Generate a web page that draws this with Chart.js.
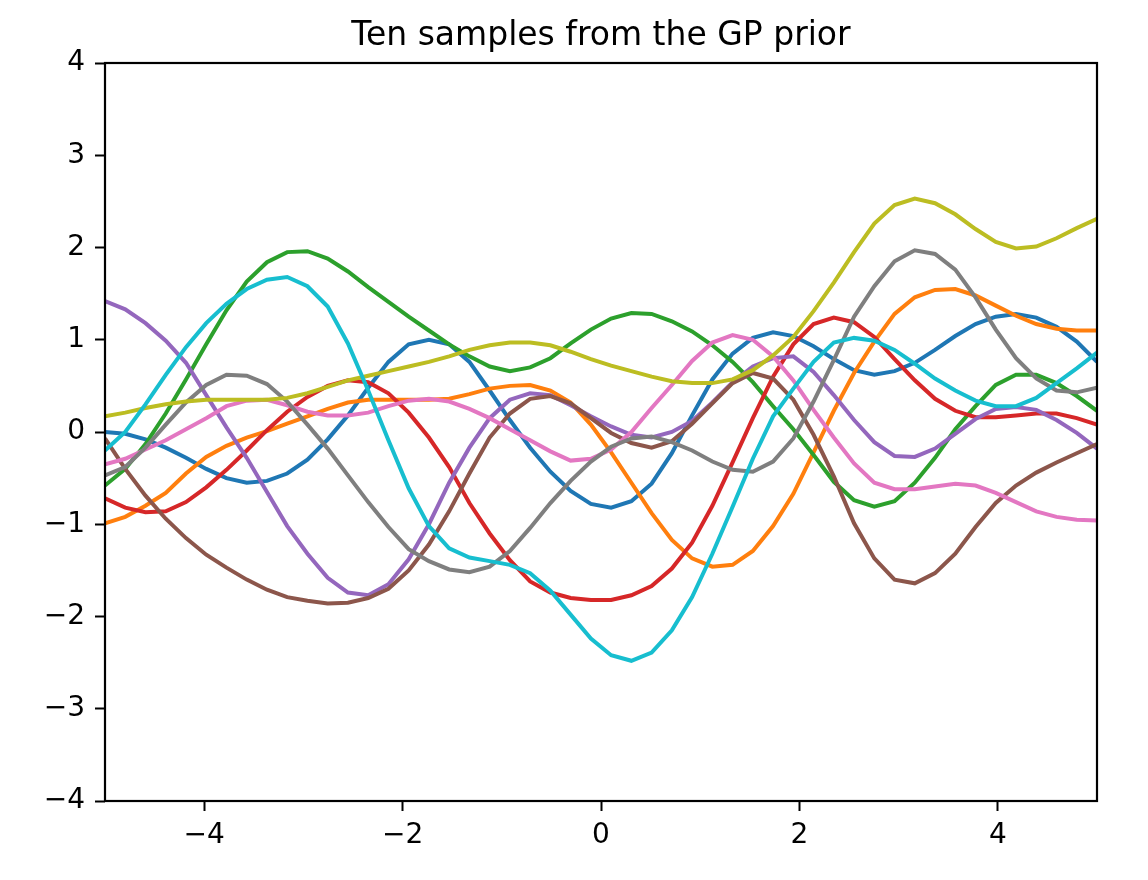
<!DOCTYPE html>
<html>
<head>
<meta charset="utf-8">
<script src="https://cdn.jsdelivr.net/npm/chart.js@4.4.1/dist/chart.umd.min.js"></script>
<style>
  body { margin: 0; background: #fff; }
  #wrap { width: 1148px; height: 880px; }
</style>
</head>
<body>
<div id="wrap"><canvas id="gp-chart" width="1148" height="880"></canvas></div>
<script>
// 50 evenly spaced points on [-5, 5], like np.linspace(-5, 5, 50)
const xValues = Array.from({ length: 50 }, (_, i) => -5 + i * 10 / 49)

const xTicks = [-4, -2, 0, 2, 4]
const yTicks = [-4, -3, -2, -1, 0, 1, 2, 3, 4]

const sample1 = [0.00, -0.02, -0.08, -0.17, -0.28, -0.40, -0.50, -0.55, -0.53, -0.45,
  -0.30, -0.08, 0.18, 0.48, 0.76, 0.95, 1.00, 0.95, 0.76, 0.45,
  0.13, -0.17, -0.43, -0.64, -0.78, -0.82, -0.75, -0.56, -0.23, 0.18,
  0.57, 0.85, 1.02, 1.08, 1.04, 0.93, 0.79, 0.67, 0.62, 0.66,
  0.75, 0.89, 1.04, 1.17, 1.25, 1.28, 1.24, 1.14, 0.98, 0.76]
const sample2 = [-0.99, -0.92, -0.80, -0.66, -0.45, -0.27, -0.15, -0.06, 0.01, 0.09,
  0.17, 0.25, 0.32, 0.35, 0.35, 0.35, 0.35, 0.36, 0.41, 0.47,
  0.50, 0.51, 0.45, 0.32, 0.08, -0.22, -0.55, -0.88, -1.17, -1.37,
  -1.46, -1.44, -1.29, -1.02, -0.67, -0.22, 0.23, 0.64, 0.98, 1.28,
  1.46, 1.54, 1.55, 1.48, 1.37, 1.26, 1.17, 1.12, 1.10, 1.10]
const sample3 = [-0.58, -0.40, -0.13, 0.20, 0.57, 0.95, 1.32, 1.63, 1.84, 1.95,
  1.96, 1.88, 1.74, 1.57, 1.41, 1.25, 1.10, 0.95, 0.82, 0.71,
  0.66, 0.70, 0.80, 0.96, 1.11, 1.23, 1.29, 1.28, 1.20, 1.09,
  0.94, 0.76, 0.54, 0.28, 0.03, -0.25, -0.54, -0.74, -0.81, -0.75,
  -0.55, -0.28, 0.03, 0.28, 0.51, 0.62, 0.62, 0.53, 0.39, 0.23]
const sample4 = [-0.72, -0.82, -0.87, -0.86, -0.76, -0.60, -0.41, -0.20, 0.02, 0.22,
  0.38, 0.50, 0.56, 0.54, 0.42, 0.21, -0.06, -0.38, -0.77, -1.10,
  -1.39, -1.62, -1.74, -1.80, -1.82, -1.82, -1.77, -1.67, -1.48, -1.20,
  -0.80, -0.33, 0.15, 0.60, 0.95, 1.17, 1.24, 1.19, 1.03, 0.79,
  0.56, 0.36, 0.23, 0.16, 0.16, 0.18, 0.20, 0.20, 0.15, 0.08]
const sample5 = [1.42, 1.33, 1.18, 0.99, 0.75, 0.40, 0.05, -0.28, -0.65, -1.02,
  -1.32, -1.58, -1.74, -1.77, -1.65, -1.38, -1.00, -0.55, -0.17, 0.15,
  0.35, 0.42, 0.40, 0.29, 0.17, 0.06, -0.03, -0.06, 0.00, 0.12,
  0.32, 0.54, 0.71, 0.80, 0.82, 0.65, 0.40, 0.13, -0.11, -0.26,
  -0.27, -0.18, -0.02, 0.14, 0.25, 0.27, 0.24, 0.13, -0.01, -0.18]
const sample6 = [-0.07, -0.40, -0.69, -0.94, -1.15, -1.33, -1.47, -1.60, -1.71, -1.79,
  -1.83, -1.86, -1.85, -1.80, -1.70, -1.50, -1.22, -0.86, -0.45, -0.06,
  0.20, 0.36, 0.39, 0.31, 0.15, -0.01, -0.12, -0.17, -0.10, 0.09,
  0.31, 0.53, 0.64, 0.58, 0.35, -0.03, -0.48, -0.99, -1.37, -1.60,
  -1.64, -1.53, -1.32, -1.03, -0.77, -0.58, -0.44, -0.33, -0.23, -0.13]
const sample7 = [-0.35, -0.29, -0.19, -0.09, 0.03, 0.15, 0.28, 0.34, 0.35, 0.29,
  0.22, 0.18, 0.18, 0.21, 0.28, 0.34, 0.36, 0.33, 0.25, 0.15,
  0.03, -0.09, -0.21, -0.31, -0.29, -0.19, 0.00, 0.26, 0.51, 0.77,
  0.97, 1.05, 1.00, 0.82, 0.56, 0.24, -0.06, -0.34, -0.55, -0.62,
  -0.62, -0.59, -0.56, -0.58, -0.66, -0.76, -0.86, -0.92, -0.95, -0.96]
const sample8 = [-0.47, -0.38, -0.17, 0.08, 0.32, 0.51, 0.62, 0.61, 0.52, 0.33,
  0.08, -0.18, -0.47, -0.76, -1.03, -1.27, -1.40, -1.49, -1.52, -1.46,
  -1.29, -1.04, -0.77, -0.53, -0.32, -0.16, -0.07, -0.05, -0.11, -0.20,
  -0.32, -0.41, -0.43, -0.32, -0.07, 0.33, 0.78, 1.25, 1.58, 1.85,
  1.97, 1.93, 1.76, 1.46, 1.11, 0.80, 0.58, 0.45, 0.43, 0.48]
const sample9 = [0.17, 0.21, 0.26, 0.30, 0.33, 0.35, 0.35, 0.35, 0.35, 0.37,
  0.42, 0.49, 0.56, 0.61, 0.66, 0.71, 0.76, 0.82, 0.89, 0.94,
  0.97, 0.97, 0.94, 0.87, 0.79, 0.72, 0.66, 0.60, 0.55, 0.53,
  0.53, 0.57, 0.67, 0.83, 1.03, 1.31, 1.62, 1.95, 2.26, 2.46,
  2.53, 2.48, 2.36, 2.20, 2.06, 1.99, 2.01, 2.10, 2.21, 2.31]
const sample10 = [-0.20, 0.00, 0.30, 0.62, 0.92, 1.18, 1.39, 1.55, 1.65, 1.68,
  1.58, 1.36, 0.96, 0.45, -0.09, -0.61, -1.02, -1.26, -1.36, -1.40,
  -1.44, -1.53, -1.72, -1.98, -2.24, -2.42, -2.48, -2.39, -2.15, -1.79,
  -1.32, -0.81, -0.29, 0.17, 0.47, 0.76, 0.97, 1.02, 0.99, 0.89,
  0.74, 0.58, 0.45, 0.34, 0.28, 0.28, 0.37, 0.53, 0.69, 0.86]

const samples = [sample1, sample2, sample3, sample4, sample5,
  sample6, sample7, sample8, sample9, sample10]

// matplotlib tab10
const colors = ['#1f77b4', '#ff7f0e', '#2ca02c', '#d62728', '#9467bd',
  '#8c564b', '#e377c2', '#7f7f7f', '#bcbd22', '#17becf']

const fontFamily = '"DejaVu Sans", sans-serif'
const minus = v => v < 0 ? '\u2212' + Math.abs(v) : String(v)

// axes box, like the matplotlib spines
const frame = {
  id: 'frame',
  afterDatasetsDraw(chart) {
    const { ctx, chartArea: a } = chart
    ctx.save()
    ctx.strokeStyle = '#000'
    ctx.lineWidth = 2.2
    ctx.strokeRect(a.left, a.top, a.right - a.left, a.bottom - a.top)
    ctx.restore()
  }
}

const datasets = samples.map((s, i) => ({
  label: 'sample ' + (i + 1),
  data: s.map((y, j) => ({ x: xValues[j], y: y })),
  borderColor: colors[i],
  backgroundColor: colors[i],
  borderWidth: 4,
  pointRadius: 0,
  tension: 0,
  fill: false,
  order: samples.length - i
}))

const ctx = document.querySelector('#gp-chart').getContext('2d')
new Chart(ctx, {
  type: 'line',
  data: { datasets: datasets },
  options: {
    responsive: false,
    devicePixelRatio: 1,
    animation: false,
    layout: { padding: { left: 0, right: 51, top: 0, bottom: 0 } },
    plugins: {
      legend: { display: false },
      tooltip: { enabled: false },
      title: {
        display: true,
        fullSize: false,
        text: 'Ten samples from the GP prior',
        color: '#000',
        font: { family: fontFamily, size: 33, weight: 'normal' },
        padding: { top: 16.5, bottom: 6.9 }
      }
    },
    scales: {
      x: {
        type: 'linear',
        min: -5,
        max: 5,
        afterBuildTicks: s => { s.ticks = xTicks.map(v => ({ value: v })) },
        afterFit: s => { s.height = 79 },
        border: { display: false },
        grid: { drawOnChartArea: false, tickLength: 10, tickWidth: 2, color: '#000' },
        ticks: {
          color: '#000',
          font: { family: fontFamily, size: 28 },
          padding: 8,
          maxRotation: 0,
          autoSkip: false,
          callback: v => minus(v)
        }
      },
      y: {
        type: 'linear',
        min: -4,
        max: 4,
        afterBuildTicks: s => { s.ticks = yTicks.map(v => ({ value: v })) },
        afterFit: s => { s.width = 105 },
        border: { display: false },
        grid: { drawOnChartArea: false, tickLength: 10, tickWidth: 2, color: '#000' },
        ticks: {
          color: '#000',
          font: { family: fontFamily, size: 28 },
          padding: 10,
          autoSkip: false,
          callback: v => minus(v)
        }
      }
    }
  },
  plugins: [frame]
})
</script>
</body>
</html>
